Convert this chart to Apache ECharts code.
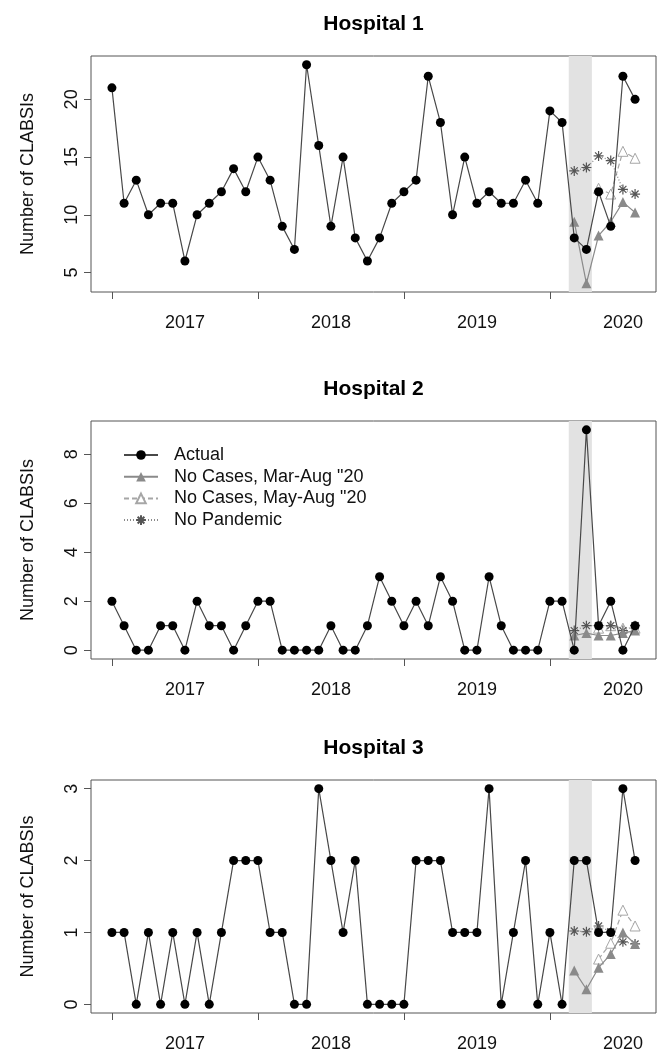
<!DOCTYPE html>
<html style="height: 100%">
<head>
  <meta charset="utf-8">
  <title>CLABSIs</title>
</head>
<body style="height: 100%; margin: 0; background: #fff">
<div id="container" style="width: 665px; height: 1053px"></div>
<script src="https://cdn.jsdelivr.net/npm/echarts@6/dist/echarts.min.js"></script>
<script>
  // months: index 0 = Jan 2017 ... 43 = Aug 2020
  var yearLabels = ['2017', '2018', '2019', '2020'];
  var hospitalNames = ['Hospital 1', 'Hospital 2', 'Hospital 3'];
  var seriesNames = ['Actual', 'No Cases, Mar-Aug "20', 'No Cases, May-Aug "20', 'No Pandemic'];
  var marAugStart = 38;
  var mayAugStart = 40;

  var h1Actual = [21, 11, 13, 10, 11, 11, 6, 10, 11, 12, 14, 12, 15, 13, 9, 7, 23, 16, 9, 15, 8, 6,
    8, 11, 12, 13, 22, 18, 10, 15, 11, 12, 11, 11, 13, 11, 19, 18, 8, 7, 12, 9, 22, 20];
  var h1MarAug = [9.4, 4.07, 8.2, 9.4, 11.1, 10.2];
  var h1MayAug = [12.3, 11.8, 15.5, 14.9];
  var h1NoPandemic = [13.8, 14.1, 15.1, 14.7, 12.2, 11.8];
  var h1Ticks = [5, 10, 15, 20];

  var h2Actual = [2, 1, 0, 0, 1, 1, 0, 2, 1, 1, 0, 1, 2, 2, 0, 0, 0, 0, 1, 0, 0, 1,
    3, 2, 1, 2, 1, 3, 2, 0, 0, 3, 1, 0, 0, 0, 2, 2, 0, 9, 1, 2, 0, 1];
  var h2MarAug = [0.6, 0.7, 0.6, 0.6, 0.7, 0.8];
  var h2MayAug = [0.9, 1.0, 0.9, 0.9];
  var h2NoPandemic = [0.8, 1.0, 1.0, 1.0, 0.8, 1.0];
  var h2Ticks = [0, 2, 4, 6, 8];

  var h3Actual = [1, 1, 0, 1, 0, 1, 0, 1, 0, 1, 2, 2, 2, 1, 1, 0, 0, 3, 2, 1, 2, 0,
    0, 0, 0, 2, 2, 2, 1, 1, 1, 3, 0, 1, 2, 0, 1, 0, 2, 2, 1, 1, 3, 2];
  var h3MarAug = [0.47, 0.21, 0.51, 0.7, 1.0, 0.84];
  var h3MayAug = [0.63, 0.85, 1.31, 1.09];
  var h3NoPandemic = [1.02, 1.01, 1.09, 1.01, 0.87, 0.84];
  var h3Ticks = [0, 1, 2, 3];

  var panels = [
    {actual: h1Actual, marAug: h1MarAug, mayAug: h1MayAug, noPandemic: h1NoPandemic, ticks: h1Ticks},
    {actual: h2Actual, marAug: h2MarAug, mayAug: h2MayAug, noPandemic: h2NoPandemic, ticks: h2Ticks},
    {actual: h3Actual, marAug: h3MarAug, mayAug: h3MayAug, noPandemic: h3NoPandemic, ticks: h3Ticks}
  ];

  var font = '"Liberation Sans", Arial, sans-serif';
  var asterisk = 'path://M5,0L5,10M0,5L10,5M1.5,1.5L8.5,8.5M8.5,1.5L1.5,8.5';
  var gridTops = [56, 421, 780];
  var gridHeights = [236, 238, 237];

  function pairs(values, start) {
    return values.map(function (v, i) { return [start + i, v]; });
  }

  var dom = document.getElementById('container');
  var myChart = echarts.init(dom, null, {renderer: 'canvas'});

  var title = [], grid = [], xAxis = [], yAxis = [], series = [];
  var nMonths = h1Actual.length - 1;

  panels.forEach(function (p, k) {
    var all = p.actual.concat(p.marAug, p.mayAug, p.noPandemic);
    var lo = Math.min.apply(null, all);
    var hi = Math.max.apply(null, all);
    var pad = (hi - lo) * 0.04;

    title.push({
      text: hospitalNames[k],
      left: 373.5,
      top: gridTops[k] - 42,
      textAlign: 'center',
      padding: 0,
      textStyle: {fontSize: 21, fontWeight: 'bold', color: '#000', fontFamily: font}
    });
    grid.push({
      left: 91, width: 565, top: gridTops[k], height: gridHeights[k],
      show: true, borderColor: '#555', borderWidth: 1, backgroundColor: 'transparent'
    });
    xAxis.push({
      type: 'value', gridIndex: k,
      min: -0.04 * nMonths, max: nMonths * 1.04,
      axisLine: {show: false, onZero: false},
      splitLine: {show: false},
      axisTick: {show: true, length: 7, lineStyle: {color: '#555'}, customValues: [0, 12, 24, 36]},
      axisLabel: {
        customValues: [6, 18, 30, 42],
        formatter: function (v) { return yearLabels[Math.round((v - 6) / 12)]; },
        margin: 22, fontSize: 18, color: '#111', fontFamily: font
      }
    });
    yAxis.push({
      type: 'value', gridIndex: k,
      min: lo - pad, max: hi + pad,
      name: 'Number of CLABSIs',
      nameLocation: 'middle',
      nameGap: 54,
      nameTextStyle: {fontSize: 18, color: '#111', fontFamily: font},
      axisLine: {show: false, onZero: false},
      splitLine: {show: false},
      axisTick: {show: true, length: 7, lineStyle: {color: '#555'}, customValues: p.ticks},
      axisLabel: {
        customValues: p.ticks, rotate: 90, margin: 10,
        fontSize: 18, color: '#111', fontFamily: font
      }
    });

    // shaded Mar-Apr 2020
    series.push({
      type: 'line', xAxisIndex: k, yAxisIndex: k, data: [], z: 1, silent: true,
      markArea: {
        silent: true,
        itemStyle: {color: '#e2e2e2'},
        data: [[{xAxis: 37.55}, {xAxis: 39.45}]]
      }
    });
    series.push({
      name: seriesNames[0], type: 'line', xAxisIndex: k, yAxisIndex: k,
      data: pairs(p.actual, 0), z: 5,
      symbol: 'circle', symbolSize: 9,
      itemStyle: {color: '#000'},
      lineStyle: {color: '#484848', width: 1.2}
    });
    series.push({
      name: seriesNames[1], type: 'line', xAxisIndex: k, yAxisIndex: k,
      data: pairs(p.marAug, marAugStart), z: 4,
      symbol: 'triangle', symbolSize: 10,
      itemStyle: {color: '#8a8a8a'},
      lineStyle: {color: '#8a8a8a', width: 1.2}
    });
    series.push({
      name: seriesNames[2], type: 'line', xAxisIndex: k, yAxisIndex: k,
      data: pairs(p.mayAug, mayAugStart), z: 3,
      symbol: 'triangle', symbolSize: 10,
      itemStyle: {color: '#fff', borderColor: '#a6a6a6', borderWidth: 1},
      lineStyle: {color: '#a6a6a6', width: 1.2, type: [5, 3]}
    });
    series.push({
      name: seriesNames[3], type: 'line', xAxisIndex: k, yAxisIndex: k,
      data: pairs(p.noPandemic, marAugStart), z: 3,
      symbol: asterisk, symbolSize: 10,
      itemStyle: {color: 'rgba(0,0,0,0)', borderColor: '#555', borderWidth: 1.2},
      lineStyle: {color: '#8a8a8a', width: 1.2, type: [1, 2]}
    });
  });

  var option = {
    animation: false,
    backgroundColor: '#fff',
    title: title,
    grid: grid,
    xAxis: xAxis,
    yAxis: yAxis,
    legend: {
      data: seriesNames,
      orient: 'vertical',
      left: 123, top: 446,
      itemWidth: 34, itemHeight: 12, itemGap: 3.7,
      padding: 0,
      textStyle: {fontSize: 18, color: '#111', fontFamily: font, padding: [0, 0, 0, 11]}
    },
    series: series
  };

  myChart.setOption(option);
</script>
</body>
</html>
